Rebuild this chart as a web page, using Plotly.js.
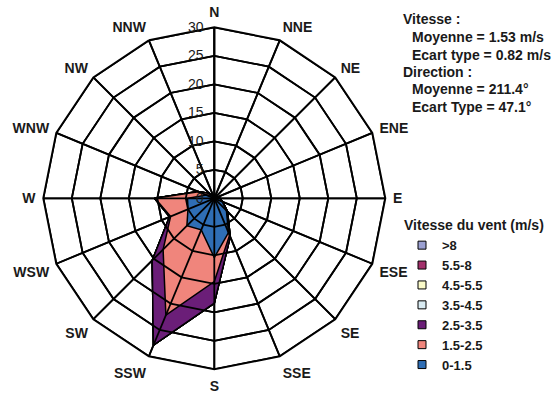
<!DOCTYPE html>
<html><head><meta charset="utf-8">
<script src="https://cdn.plot.ly/plotly-3.0.1.min.js"></script>
<style>html,body{margin:0;padding:0;background:#fff}#chart{width:552px;height:396px}</style>
</head><body><div id="chart"></div>
<script>
// Directions (compass sectors)
const directions = ['N','NNE','NE','ENE','E','ESE','SE','SSE','S','SSW','SW','WSW','W','WNW','NW','NNW'];

// Frequencies (%) per speed class, per direction
const freq_0_15   = [0.5,0.5,0.5,0.5,1.0,1.5,3.0,6.5,10.4,6.0,6.8,5.0,4.7,1.5,0.8,0.5];
const freq_15_25  = [0.1,0.0,0.0,0.0,0.0,0.1,0.2,0.5,4.2,16.2,5.9,3.3,5.7,1.5,0.4,0.1];
const freq_25_35  = [0.0,0.0,0.0,0.0,0.0,0.0,0.1,0.3,3.8,5.7,2.7,0.2,0.1,0.1,0.0,0.0];
const freq_35_45  = [0,0,0,0,0,0,0,0,0,0,0,0,0,0,0,0];
const freq_45_55  = [0,0,0,0,0,0,0,0,0,0,0,0,0,0,0,0];
const freq_55_8   = [0,0,0,0,0,0,0,0,0,0,0,0,0,0,0,0];
const freq_gt8    = [0,0,0,0,0,0,0,0,0,0,0,0,0,0,0,0];

// Speed classes, from lowest to highest
const classLabels = ['0-1.5','1.5-2.5','2.5-3.5','3.5-4.5','4.5-5.5','5.5-8','>8'];
const classFreqs  = [freq_0_15, freq_15_25, freq_25_35, freq_35_45, freq_45_55, freq_55_8, freq_gt8];
const classColors = ['#2f6eb5','#f0857c','#6b1e78','#d9ebf2','#fafac8','#a2306b','#9ba0d2'];

const radialTicks = [0,5,10,15,20,25,30];
const legendTitle = 'Vitesse du vent (m/s)';
const statsLines = ['Vitesse :','Moyenne = 1.53 m/s','Ecart type = 0.82 m/s','Direction :','Moyenne = 211.4°','Ecart Type = 47.1°'];
const statsIndent = [false,true,true,false,true,true];

const W = 552, H = 396;
const FONT = 'Liberation Sans, Arial, sans-serif';

// cumulative stacks
const cumul = [];
classFreqs.forEach((f, k) => {
  cumul.push(f.map((v, i) => (k ? cumul[k-1][i] : 0) + v));
});

const closeT = directions.concat([directions[0]]);
const traces = [];

// filled stacked polygons, outermost first
for (let k = classFreqs.length - 1; k >= 0; k--) {
  traces.push({
    type: 'scatterpolar', mode: 'lines', fill: 'toself',
    r: cumul[k].concat([cumul[k][0]]), theta: closeT,
    fillcolor: classColors[k], line: {color: '#000', width: 1.5},
    showlegend: false, hoverinfo: 'skip'
  });
}

// grid drawn above the fills (rings + spokes)
const rMax = radialTicks[radialTicks.length - 1];
radialTicks.slice(1).forEach(t => {
  traces.push({
    type: 'scatterpolar', mode: 'lines',
    r: closeT.map(() => t), theta: closeT,
    line: {color: '#000', width: 1.8}, showlegend: false, hoverinfo: 'skip'
  });
});
const spokeR = [], spokeT = [];
directions.forEach(d => { spokeR.push(0, rMax, null); spokeT.push(d, d, d); });
traces.push({
  type: 'scatterpolar', mode: 'lines', r: spokeR, theta: spokeT, connectgaps: false,
  line: {color: '#000', width: 1.8}, showlegend: false, hoverinfo: 'skip'
});

// legend entries (highest class on top)
for (let k = classFreqs.length - 1; k >= 0; k--) {
  traces.push({
    type: 'scatterpolar', mode: 'markers', r: [null], theta: [directions[0]],
    name: classLabels[k],
    marker: {symbol: 'square', size: 8, color: classColors[k], line: {color: '#000', width: 1}},
    hoverinfo: 'skip'
  });
}

const cx = 214.3, cy = 198.3, R = 171;
const annotations = statsLines.map((s, i) => ({
  xref: 'paper', yref: 'paper',
  x: (statsIndent[i] ? 410 : 401) / W, y: 1 - [19.3,37.3,54.5,72,89.3,106.5][i] / H,
  xanchor: 'left', yanchor: 'middle', showarrow: false, text: s,
  font: {family: FONT, size: 14, color: '#1a1a1a', weight: 'bold'}
}));

const layout = {
  width: W, height: H,
  margin: {l: 0, r: 0, t: 0, b: 0},
  paper_bgcolor: '#fff', plot_bgcolor: '#fff',
  font: {family: FONT, color: '#1a1a1a'},
  showlegend: true,
  legend: {
    x: 402 / W, xanchor: 'left', y: 1 - 212 / H, yanchor: 'top',
    bgcolor: 'rgba(0,0,0,0)',
    title: {text: legendTitle, font: {family: FONT, size: 14, weight: 'bold', color: '#1a1a1a'}},
    font: {family: FONT, size: 13, weight: 'bold', color: '#1a1a1a'},
    itemwidth: 30
  },
  polar: {
    domain: {x: [(cx - R) / W, (cx + R) / W], y: [(H - cy - R) / H, (H - cy + R) / H]},
    gridshape: 'linear',
    bgcolor: '#fff',
    angularaxis: {
      type: 'category', categoryorder: 'array', categoryarray: directions,
      rotation: 90, direction: 'clockwise',
      showline: true, linecolor: '#000', linewidth: 2,
      showgrid: true, gridcolor: '#000', gridwidth: 1.8,
      ticks: 'outside', ticklen: 4, tickcolor: 'rgba(0,0,0,0)',
      tickfont: {family: FONT, size: 14, weight: 'bold', color: '#1a1a1a'}
    },
    radialaxis: {
      range: [0, rMax], tickvals: radialTicks, ticktext: radialTicks.map(String),
      angle: 90, side: 'counterclockwise', tickangle: 90,
      showline: true, linecolor: '#000', linewidth: 1.8,
      showgrid: true, gridcolor: '#000', gridwidth: 1.8,
      ticks: 'outside', ticklen: 5, tickcolor: 'rgba(0,0,0,0)',
      tickfont: {family: FONT, size: 14, color: '#1a1a1a'}
    }
  },
  annotations: annotations
};

Plotly.newPlot('chart', traces, layout, {staticPlot: true, displayModeBar: false});
</script>
</body></html>
